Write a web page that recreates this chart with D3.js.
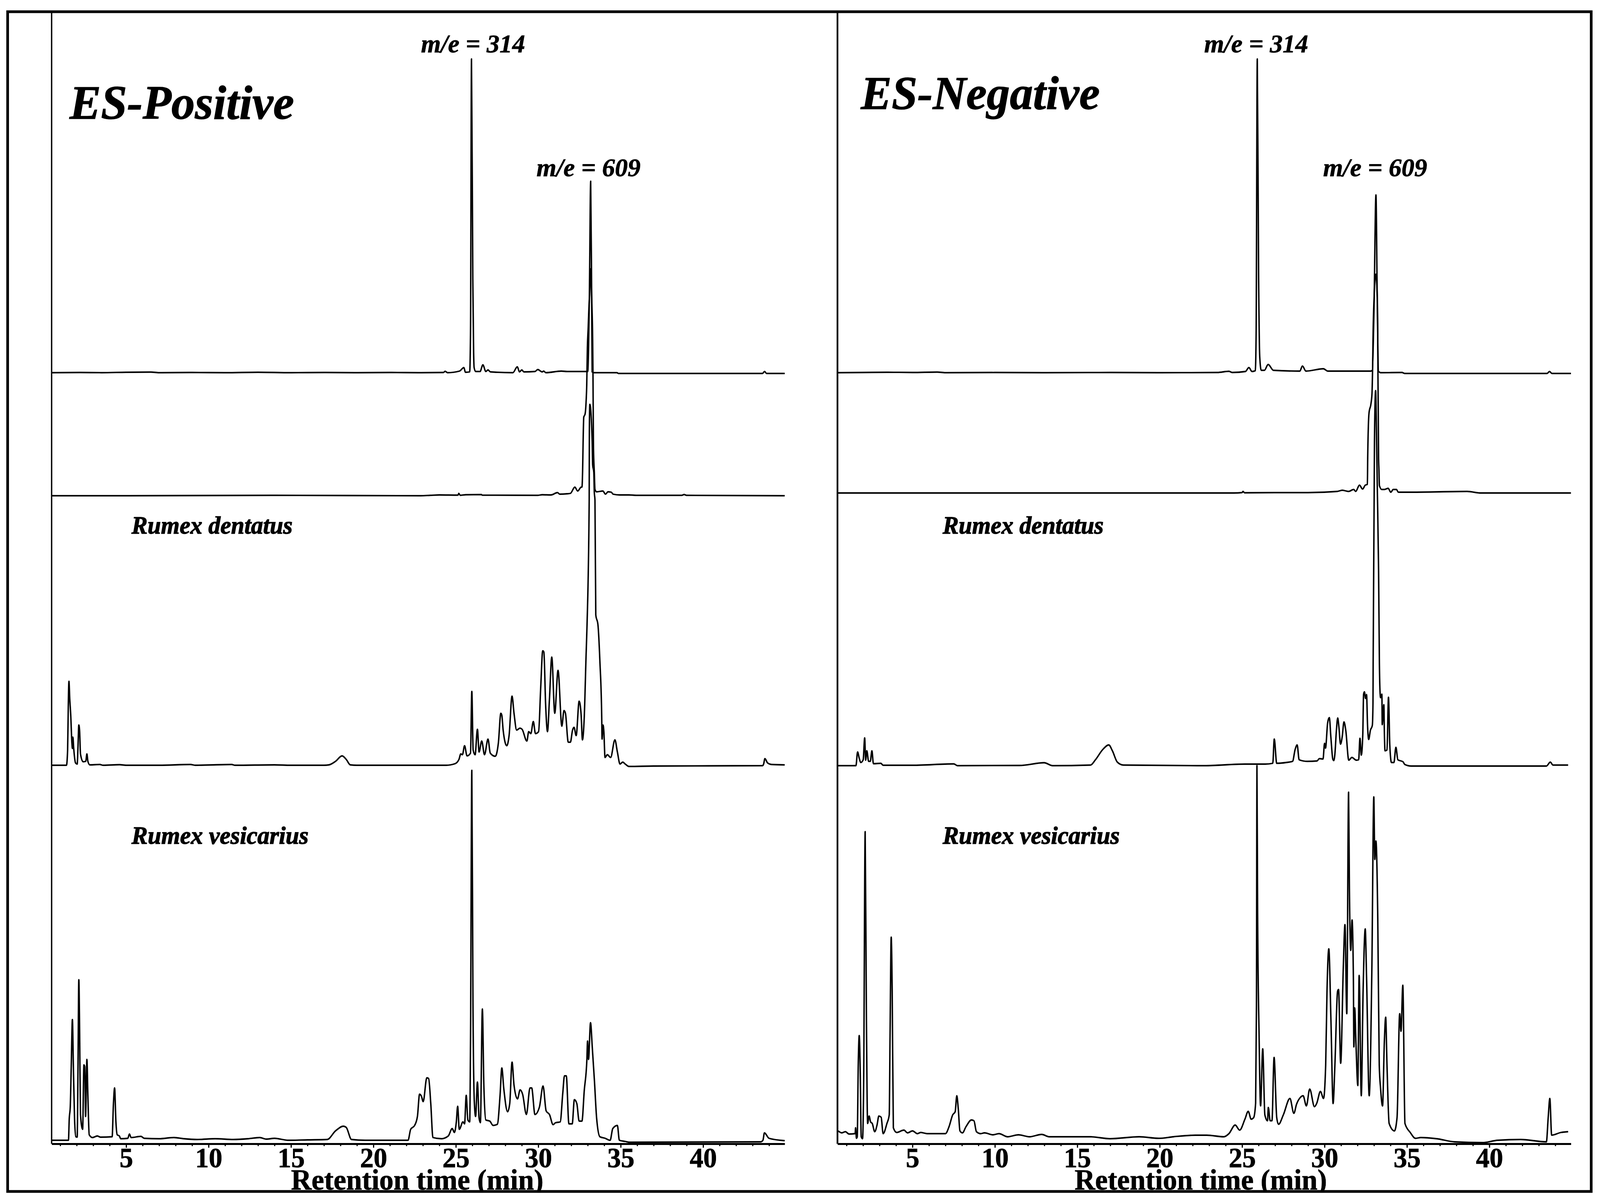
<!DOCTYPE html>
<html>
<head>
<meta charset="utf-8">
<title>ES-Positive / ES-Negative chromatograms</title>
<script src="https://cdn.jsdelivr.net/npm/d3@7"></script>
<style>
  html, body { margin: 0; background: #fff; overflow: hidden; }
  svg { display: block; }
  text { font-family: "Liberation Serif", serif; fill: #000; }
</style>
</head>
<body>
<div id="chart"></div>
<script>
// tick labels of the retention time axis (min)
const majorTicks = [5, 10, 15, 20, 25, 30, 35, 40];
const minorTicks = d3.range(1, 45);

// every trace is [retention time, intensity]
// ES-Positive, standards m/e 314 + m/e 609
const posStandards = [[0.5,0],[2.2,0.05],[3.5,0],[5,0.1],[6.5,0.15],[7,0],[9,0.05],[11,0],[13,0.1],[15,0],[17,0.05],[19,0],[21,0.05],[22.87,0],[24.25,0.05],[24.35,0.35],[24.5,0],[25.22,0.4],[25.49,1.3],[25.58,0.1],[25.84,0.2],[25.89,10],[25.95,80.3],[26.03,24],[26.08,5],[26.11,1.3],[26.2,0.3],[26.47,0.3],[26.64,2],[26.82,0.3],[26.95,0.7],[27.1,0.2],[28.46,0],[28.73,1.5],[28.86,0.2],[29,0.7],[29.13,0.2],[29.8,0.3],[29.97,0.8],[30.24,0.2],[30.33,0.4],[30.46,0],[31.4,0.4],[31.75,0.3],[32.9,0.3],[33,0.3],[33.1,19.4],[33.18,49],[33.24,19.4],[33.27,0.2],[33.35,0],[34.77,0],[34.86,-0.2],[43.6,-0.2],[43.73,0.3],[43.85,-0.2],[44.95,-0.2]];
const posBlank = [[0.5,-0.1],[5,-0.1],[14,0],[22.87,-0.1],[23.45,0],[24,0.1],[25.13,0.05],[25.18,0.5],[25.27,0],[25.6,0.15],[26.55,0.2],[26.6,0.05],[29.97,0],[30.24,0.15],[30.77,0.1],[31.17,0.7],[31.3,0.3],[31.75,0.4],[31.95,0.5],[32.22,2.1],[32.39,1.1],[32.61,2.1],[32.65,2.1],[32.69,6.1],[32.72,13.3],[32.76,20],[32.84,20.8],[32.9,23.8],[32.94,28.1],[32.98,37.8],[33.03,43],[33.07,47.6],[33.11,50.8],[33.19,58],[33.24,50.8],[33.27,46.5],[33.3,39.8],[33.32,30.8],[33.34,17.5],[33.35,12],[33.4,6],[33.44,1.5],[33.54,0.9],[33.92,1.1],[34.08,0.3],[34.23,0.9],[34.43,0.8],[34.54,0.3],[34.93,0.1],[35.5,0.1],[36,0],[38.7,0],[38.85,0.2],[39,0],[44.95,-0.1]];
const posDentatus = [[0.5,0],[1.38,0],[1.45,3.9],[1.49,15],[1.53,21.5],[1.58,17],[1.64,12.8],[1.71,5.7],[1.74,4.3],[1.77,7.2],[1.82,4.3],[1.93,0.6],[2.03,0.3],[2.08,4.8],[2.13,10.3],[2.18,8.6],[2.23,2.9],[2.39,0.9],[2.55,1],[2.62,2.9],[2.68,1],[2.8,0.1],[3.4,0.2],[3.6,0],[4.6,0.15],[5,0],[7,0],[8.9,0.2],[9.2,0],[11.4,0.2],[11.6,0],[14,0.1],[15,0],[17,0],[17.3,0.1],[17.7,1],[18.1,2.4],[18.35,1.5],[18.6,0.1],[19,0],[22,0],[24.4,0],[24.95,0.4],[25.19,1.5],[25.3,2.9],[25.4,2.7],[25.53,5],[25.68,2.4],[25.89,3.1],[25.97,18.9],[26.05,3.9],[26.17,2.7],[26.31,9.2],[26.41,3.4],[26.57,6.2],[26.74,2.7],[26.95,6.7],[27.09,3.1],[27.39,2.3],[27.58,5.7],[27.73,13.3],[27.79,12.8],[27.87,9],[28.09,5],[28.23,7.6],[28.41,17.7],[28.53,13.3],[28.69,9],[28.89,9.5],[29.02,9.2],[29.31,6.2],[29.42,8.6],[29.55,8.1],[29.7,11.2],[29.83,8.1],[30.02,8.6],[30.15,20],[30.27,29.3],[30.34,29],[30.45,15.2],[30.56,8.6],[30.68,17],[30.82,27.7],[31,13.3],[31.2,24.3],[31.43,10],[31.56,14],[31.65,13.3],[31.82,5.9],[31.95,5.9],[32.08,9],[32.17,9.7],[32.3,7.6],[32.48,16.4],[32.6,13],[32.68,6.5],[32.79,12.3],[32.9,28],[32.96,36],[33.09,68],[33.1,85.6],[33.13,92.4],[33.27,83],[33.3,76.9],[33.37,75],[33.4,69.9],[33.44,67.9],[33.49,38.5],[33.62,36],[33.74,26.5],[33.85,12.3],[33.87,6.7],[33.93,10.3],[33.98,8.6],[34.05,2],[34.19,2.7],[34.39,2],[34.65,6.5],[34.8,3.4],[34.96,0.3],[35.12,0.8],[35.28,0.3],[35.5,-0.3],[37,-0.2],[43.6,-0.1],[43.67,0.3],[43.75,1.7],[43.91,0.6],[44.15,0.2],[44.95,0.1]];
const posVesicarius = [[0.5,0],[1.5,0],[1.55,5.6],[1.61,8.5],[1.67,18.8],[1.74,30.9],[1.8,18.8],[1.87,5.6],[1.95,0.9],[2.03,0.8],[2.08,18.8],[2.13,41.1],[2.18,27.3],[2.23,6.6],[2.36,2.8],[2.44,19.3],[2.49,18.8],[2.54,6.1],[2.62,20.7],[2.68,11.3],[2.76,1.4],[2.96,0.7],[3.25,1.1],[3.45,0.8],[4.15,0.9],[4.23,9.4],[4.3,13.4],[4.38,4.7],[4.46,1.4],[4.59,1.1],[4.67,0.4],[5.1,0.5],[5.2,1.6],[5.3,0.7],[5.9,1],[6.1,0.5],[7,0.4],[7.9,0.7],[8.5,0.4],[9.3,0.2],[10.4,0.4],[11.5,0.2],[12.4,0.4],[13.1,0.7],[13.5,0.3],[14,0.5],[14.84,0],[16,0.1],[17.2,0.2],[17.7,2.4],[18.18,3.6],[18.35,3.3],[18.67,0.2],[19.5,0],[21.76,0],[22.1,0],[22.26,2.8],[22.5,3.8],[22.67,6.1],[22.8,11.8],[22.91,11.3],[23.02,9.9],[23.24,16],[23.35,15.8],[23.48,9.4],[23.61,0.7],[24.13,0.4],[24.54,1.1],[24.78,3],[24.91,2],[25.03,4.7],[25.11,8.7],[25.21,2.8],[25.43,4.7],[25.53,4.2],[25.63,11.5],[25.73,5.2],[25.84,4.7],[25.89,25],[25.97,94.7],[26.04,34.9],[26.12,10],[26.2,6.1],[26.31,14.9],[26.41,5.7],[26.49,4.5],[26.61,33.6],[26.7,14.1],[26.82,5.2],[27.06,4.9],[27.26,3.8],[27.52,4.1],[27.68,11.3],[27.79,18.5],[27.91,13.2],[28.14,7.3],[28.27,9.4],[28.41,20],[28.53,14.1],[28.74,10.6],[28.9,12.9],[29.05,11.8],[29.28,6.6],[29.5,13.4],[29.6,13.4],[29.8,6.6],[30.07,8.5],[30.29,13.9],[30.48,7.5],[30.68,6.6],[30.9,4],[31.05,4.5],[31.33,4.7],[31.49,12.2],[31.59,16.5],[31.7,16.5],[31.86,4.2],[32.06,4.2],[32.19,10.4],[32.34,9.4],[32.48,4.9],[32.65,4.9],[32.79,12.7],[32.95,20.7],[32.99,25.4],[33.05,20.7],[33.17,30.1],[33.28,23.6],[33.41,15.1],[33.54,5.7],[33.74,0.9],[34.06,0.5],[34.36,0],[34.52,3],[34.8,3.8],[34.92,0],[35.28,-0.3],[35.53,-0.5],[43.5,-0.4],[43.63,0],[43.72,1.9],[44,0.5],[44.95,-0.1]];

// ES-Negative
const negStandards = [[0.45,0],[2,0.05],[3.5,0.1],[5,0.05],[6.5,0.15],[7,0],[10,0.05],[13,0],[17,0.05],[20,0],[23.5,0.05],[24.2,0.35],[24.4,0.05],[25.2,0.3],[25.41,1.3],[25.6,0.3],[25.8,0.5],[25.85,10],[25.92,80.3],[26,25],[26.07,4],[26.16,0.6],[26.35,0.6],[26.58,2.1],[26.9,0.6],[28.5,0.4],[28.66,1.7],[28.87,0.4],[29.93,1],[30.2,0.4],[32.8,0.4],[32.9,0.6],[33,16],[33.12,45.5],[33.2,18],[33.27,0.4],[33.4,0],[34.7,0.05],[34.86,-0.2],[43.5,-0.2],[43.65,0.3],[43.8,-0.2],[44.95,-0.2]];
const negBlank = [[0.45,0],[10,0],[24.5,0],[25,0.1],[25.05,0.4],[25.15,0.05],[27,0.1],[29,0.1],[30.77,0.4],[31.08,0.7],[31.46,0.4],[31.77,0.9],[31.89,0.4],[32.12,2],[32.31,1],[32.47,2],[32.6,2.2],[32.62,9.2],[32.66,17.2],[32.7,20.5],[32.82,22.9],[32.88,25.5],[32.92,32.7],[32.95,41.5],[33.01,50.2],[33.12,56],[33.2,50.2],[33.23,39.5],[33.24,30.9],[33.26,20.9],[33.28,8.9],[33.3,6.2],[33.33,1.9],[33.47,0.9],[33.63,0.9],[33.86,1.2],[34.02,0.2],[34.17,0.9],[34.36,0.9],[34.48,0.2],[35.25,0.2],[38.65,0.4],[39.5,0],[44.95,0]];
const negDentatus = [[0.45,0],[1.57,0],[1.67,3.5],[1.77,1.9],[1.86,0.8],[2.01,1.5],[2.1,7.1],[2.16,1.4],[2.23,3.8],[2.34,1.1],[2.44,1.1],[2.54,3.8],[2.63,0.5],[3.08,0.6],[3.22,0.1],[5,0.1],[7.51,0.45],[7.73,0],[11.5,0.05],[12.99,0.75],[13.5,0],[15.8,0.15],[16.1,1.5],[16.54,4.1],[16.91,5.3],[17.13,3.8],[17.43,0.9],[17.8,0.15],[22.7,0],[25.17,0.4],[26.4,0.4],[26.86,0.6],[26.95,6.8],[27.1,0.6],[27.66,0.8],[28.06,1.1],[28.22,4.2],[28.34,5.3],[28.46,1.5],[28.95,1.1],[29.54,1.2],[29.69,1.8],[29.91,1.7],[30,5.7],[30.06,4.5],[30.19,11],[30.29,12.3],[30.39,7],[30.5,1.7],[30.56,1.3],[30.63,3],[30.72,9],[30.8,12.2],[30.87,10],[30.97,5.5],[31.07,7.3],[31.18,11.2],[31.29,9],[31.47,1.4],[31.66,2.1],[31.93,1.4],[32.07,1.5],[32.15,7],[32.23,2.7],[32.32,7.8],[32.37,18.3],[32.42,18.9],[32.49,17.2],[32.55,18.2],[32.61,10.3],[32.68,6.7],[32.78,9],[32.9,10.3],[32.94,16],[32.95,26],[33.01,68],[33.03,83],[33.1,96],[33.15,86],[33.2,71.7],[33.28,50],[33.33,26],[33.37,18.7],[33.4,17.4],[33.48,18.3],[33.5,10.5],[33.6,15.6],[33.63,8.7],[33.67,3.8],[33.79,4],[33.88,17.5],[33.96,5.3],[34.06,0.8],[34.21,0.8],[34.33,4.7],[34.45,1.5],[34.76,1],[34.87,0.3],[35.26,-0.1],[43.46,-0.1],[43.7,0.9],[43.86,0.15],[44.78,0.15]];
const negVesicarius = [[0.49,3],[0.71,2.5],[0.93,2.8],[1.15,2.2],[1.52,2.3],[1.55,3.8],[1.6,1.1],[1.65,1.5],[1.71,19.9],[1.77,27.4],[1.83,18.4],[1.89,1.5],[1.97,1],[2.04,16.1],[2.13,79.6],[2.2,35.7],[2.28,4.9],[2.37,6.8],[2.46,5.3],[2.56,4.9],[2.71,2.8],[2.85,4.5],[2.96,6.8],[3.1,6.5],[3.22,2.3],[3.45,4.9],[3.59,7.1],[3.64,27.4],[3.71,52.6],[3.77,38.7],[3.84,3.8],[4.04,2.6],[4.48,3.2],[4.7,2.5],[5,3],[5.3,2.3],[5.5,2.6],[5.9,2.3],[7,2.3],[7.22,4.1],[7.44,7.1],[7.59,7.9],[7.69,12],[7.78,8.6],[7.88,3],[8.03,2.5],[8.25,4.1],[8.58,5.8],[8.73,5.6],[8.88,2.8],[9.14,2.3],[9.37,2.5],[9.88,2],[10.25,2.3],[10.77,1.5],[11.43,2],[12.1,1.5],[12.84,2.1],[13.3,1.5],[14.3,1.5],[15.8,1.5],[16.98,1],[18.76,1.5],[19.94,1.1],[20.83,1.5],[22.16,1.9],[22.85,1.9],[23.89,1.5],[24.2,2.3],[24.58,4.5],[24.85,3.2],[25.17,6],[25.37,8],[25.55,6],[25.7,6.4],[25.82,10.1],[25.87,35],[25.9,96.5],[25.94,59],[26.03,27.4],[26.12,9.4],[26.25,24],[26.38,7.1],[26.54,5.6],[26.59,9],[26.7,5.6],[26.81,5.6],[26.94,21.8],[27.1,6.4],[27.21,4.7],[27.5,7.1],[27.9,11.3],[28.14,7.5],[28.3,9.8],[28.54,11.6],[28.7,12],[28.9,9.4],[29.1,13.7],[29.39,9.2],[29.53,10.1],[29.75,13.1],[29.94,11.3],[30.07,19.9],[30.15,38.7],[30.26,49.6],[30.39,31.2],[30.52,10],[30.63,19.9],[30.79,38.7],[30.85,39.2],[30.98,20.3],[31.14,45],[31.24,55.8],[31.35,33],[31.46,89.7],[31.51,65],[31.59,49.2],[31.67,57],[31.75,42.4],[31.78,24.5],[31.83,34.5],[31.91,25],[32.02,14.6],[32.1,42.8],[32.23,12],[32.34,38.7],[32.47,54.7],[32.55,42.4],[32.71,12],[32.87,43.9],[32.99,88.5],[33.05,72.5],[33.12,77.2],[33.23,57.5],[33.32,19.9],[33.4,13.9],[33.52,9.4],[33.63,25.9],[33.71,32.1],[33.79,19.9],[33.92,4.9],[34.24,3],[34.4,6.4],[34.56,33],[34.64,28.5],[34.75,40.3],[34.88,4.9],[35.2,2.6],[35.52,1.1],[35.84,1.3],[36.8,1],[37.9,0.2],[39.6,0],[40.5,0.6],[41.9,0.8],[43.46,0.2],[43.57,6.4],[43.67,11.3],[43.78,1.9],[44.34,2.6],[44.78,2.8]];

const peakLabels = ["m/e = 314", "m/e = 609"];
const speciesLabels = ["Rumex dentatus", "Rumex vesicarius"];
const axisTitle = "Retention time (min)";

const W = 4184, H = 3077;
// drawn in reference pixels, the viewBox fits them into whatever the window really is
const svg = d3.select("#chart").append("svg")
  .attr("viewBox", `0 0 ${W} ${H}`)
  .attr("preserveAspectRatio", "none")
  .attr("width", window.innerWidth || W)
  .attr("height", window.innerHeight || H)
  .style("background", "#fff");

// the bottom line of the frame cuts the axis title
const defs = svg.append("defs");
defs.append("clipPath").attr("id", "frameClip")
  .append("rect").attr("x", 0).attr("y", 0).attr("width", W).attr("height", 3049);

const panels = [
  {
    title: "ES-Positive", titleX: 182, titleY: 304, titleSize: 123, titleLen: 587,
    axisX: 135, x0: 0.48, x1: 44.95, left: 135, right: 2052,
    traces: [
      { data: posStandards, base: 954 },
      { data: posBlank, base: 1268 },
      { data: posDentatus, base: 1959 },
      { data: posVesicarius, base: 2919 }
    ],
    peakPos: [[1101, 134], [1403, 451]], speciesX: 344, titleAxisX: 761
  },
  {
    title: "ES-Negative", titleX: 2251, titleY: 279, titleSize: 121, titleLen: 625,
    axisX: 2190, x0: 0.45, x1: 44.95, left: 2190, right: 4108,
    traces: [
      { data: negStandards, base: 954 },
      { data: negBlank, base: 1262 },
      { data: negDentatus, base: 1960 },
      { data: negVesicarius, base: 2925 }
    ],
    peakPos: [[3149, 134], [3460, 451]], speciesX: 2465, titleAxisX: 2810
  }
];

const axisY = 2928;
const speciesY = [1366, 2160];
const speciesLen = [421, 463];

panels.forEach(p => {
  const g = svg.append("g");
  const x = d3.scaleLinear().domain([p.x0, p.x1]).range([p.left, p.right]);

  // axis title goes first, the tick labels sit on top of it
  g.append("text")
    .attr("clip-path", "url(#frameClip)")
    .attr("x", p.titleAxisX).attr("y", 3045)
    .attr("textLength", 660).attr("lengthAdjust", "spacingAndGlyphs")
    .style("font-size", "75px").style("font-weight", "bold")
    .style("stroke", "#000").style("stroke-width", 1)
    .text(axisTitle);

  // traces, monotone curve keeps the peak tops round like the detector output
  p.traces.forEach(tr => {
    const y = d3.scaleLinear().domain([0, 100]).range([tr.base, tr.base - 1000]);
    const line = d3.line().x(d => x(d[0])).y(d => y(d[1])).curve(d3.curveMonotoneX);
    g.append("path")
      .datum(tr.data)
      .attr("d", line)
      .style("fill", "none")
      .style("stroke", "#000")
      .style("stroke-width", 3.8)
      .style("stroke-linejoin", "round");
  });

  // y axis is only a line
  g.append("line")
    .attr("x1", p.axisX).attr("x2", p.axisX)
    .attr("y1", 30).attr("y2", axisY)
    .style("stroke", "#000").style("stroke-width", p.axisX > 2000 ? 4.5 : 3.5);

  // minor ticks then major ticks
  const minorAxis = d3.axisBottom(x).tickValues(minorTicks).tickSize(6).tickSizeOuter(0).tickFormat("");
  const gMinor = g.append("g").attr("transform", `translate(0,${axisY})`).call(minorAxis);
  gMinor.selectAll("line").style("stroke", "#000").style("stroke-width", 3);
  gMinor.select(".domain").remove();

  const majorAxis = d3.axisBottom(x).tickValues(majorTicks).tickSize(10).tickSizeOuter(0).tickPadding(2);
  const gMajor = g.append("g").attr("transform", `translate(0,${axisY})`).call(majorAxis);
  gMajor.select(".domain").style("stroke", "#000").style("stroke-width", 5);
  gMajor.selectAll("line").style("stroke", "#000").style("stroke-width", 3);
  gMajor.selectAll("text")
    .attr("y", 60).attr("dy", 0)
    .style("font-family", '"Liberation Serif", serif')
    .style("font-size", "71px").style("font-weight", "bold")
    .style("stroke", "#000").style("stroke-width", 1);

  // labels
  g.append("text")
    .attr("x", p.titleX).attr("y", p.titleY)
    .attr("textLength", p.titleLen).attr("lengthAdjust", "spacingAndGlyphs")
    .style("font-size", p.titleSize + "px")
    .style("font-weight", "bold").style("font-style", "italic")
    .style("stroke", "#000").style("stroke-width", 1.5)
    .text(p.title);

  peakLabels.forEach((t, i) => {
    g.append("text")
      .attr("x", p.peakPos[i][0]).attr("y", p.peakPos[i][1])
      .attr("textLength", 272).attr("lengthAdjust", "spacingAndGlyphs")
      .style("font-size", "66px")
      .style("font-weight", "bold").style("font-style", "italic")
      .style("stroke", "#000").style("stroke-width", 1)
      .text(t);
  });

  speciesLabels.forEach((t, i) => {
    g.append("text")
      .attr("x", p.speciesX).attr("y", speciesY[i])
      .attr("textLength", speciesLen[i]).attr("lengthAdjust", "spacingAndGlyphs")
      .style("font-size", "63px")
      .style("font-weight", "bold").style("font-style", "italic")
      .style("stroke", "#000").style("stroke-width", 1.5)
      .text(t);
  });
});

// outer frame
svg.append("rect")
  .attr("x", 20).attr("y", 30)
  .attr("width", 4141).attr("height", 3020)
  .style("fill", "none").style("stroke", "#000").style("stroke-width", 7);
</script>
</body>
</html>
